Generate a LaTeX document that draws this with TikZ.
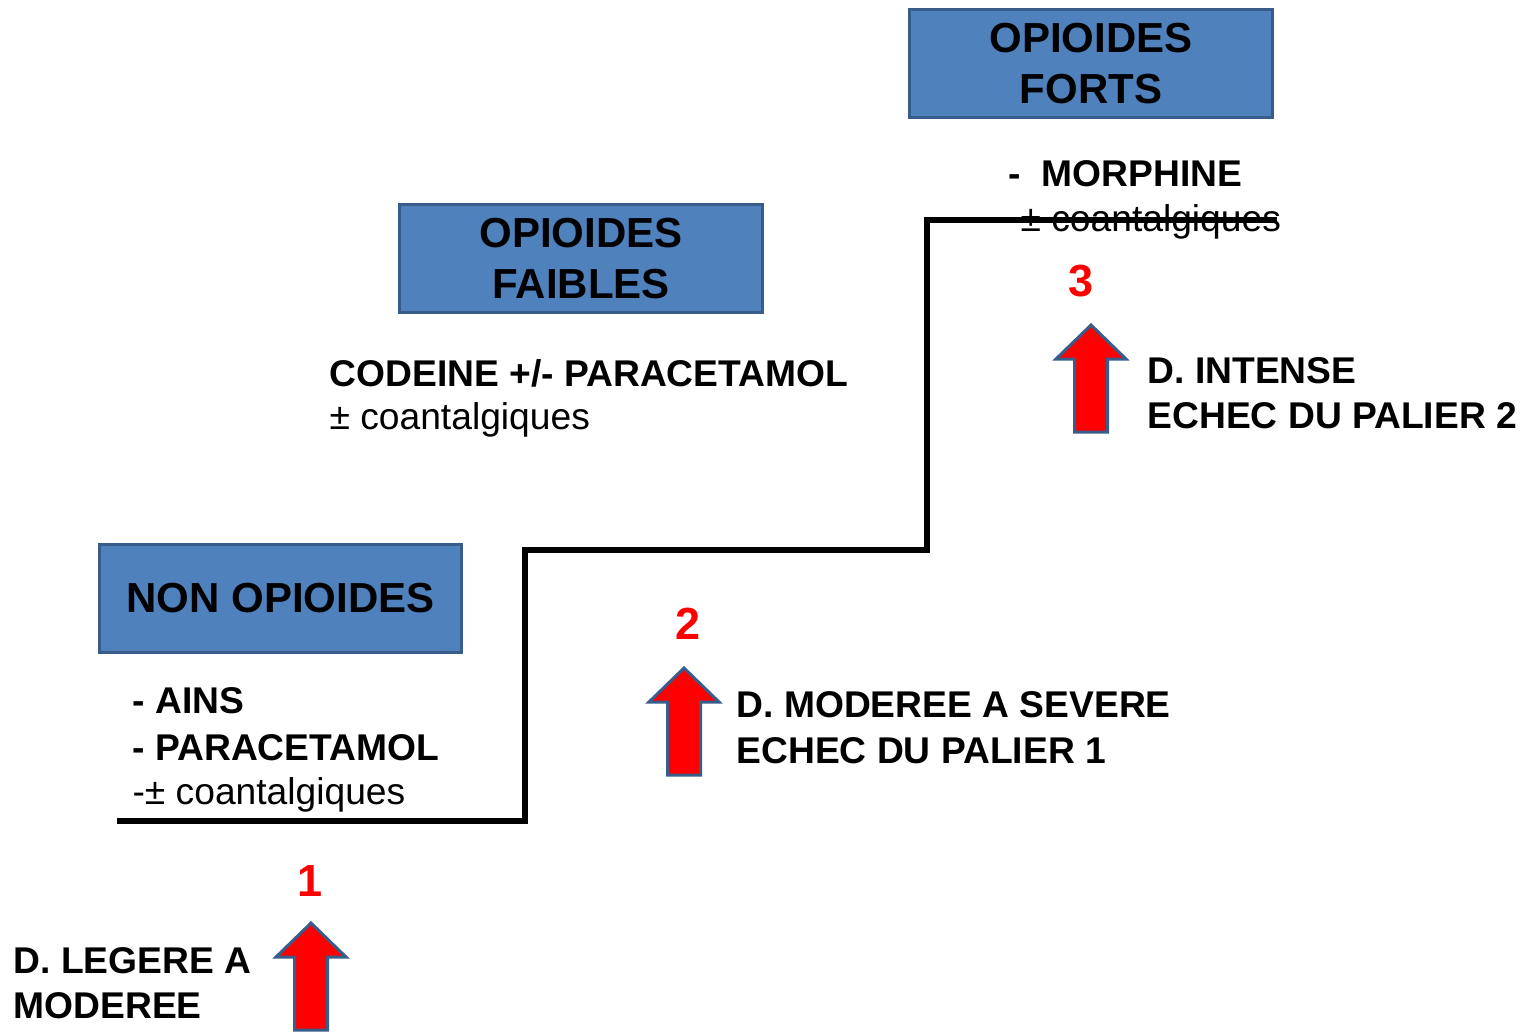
\documentclass[tikz,border=0pt]{standalone}
\usepackage{fontspec}
\setmainfont{Liberation Sans}
\definecolor{boxblue}{HTML}{4F81BD}
\definecolor{boxline}{HTML}{385D8A}
\tikzset{
  palier/.style={draw=boxline, fill=boxblue, line width=1pt, inner sep=0pt,
    minimum width=120.7pt, minimum height=35.7pt, align=center,
    font=\fontsize{14}{16.7}\selectfont\bfseries},
  txt/.style={anchor=base west, inner sep=0pt, font=\fontsize{12.4}{15}\selectfont\bfseries},
  coan/.style={anchor=base west, inner sep=0pt, font=\fontsize{12.4}{15}\selectfont},
  numero/.style={anchor=base, inner sep=0pt, text=red, font=\fontsize{15}{17}\selectfont\bfseries},
  uparrow/.pic={
    \draw[boxline, fill=red, line width=1pt, line join=miter]
      (0,0) -- (35,34) -- (16.5,34) -- (16.5,107) -- (-16.5,107)
      -- (-16.5,34) -- (-35,34) -- cycle;
  }
}
\begin{document}
\begin{tikzpicture}[x={(0.3333pt,0)}, y={(0,-0.3333pt)}]
  \useasboundingbox (0,0) rectangle (1522,1032);
  \clip (0,0) rectangle (1522,1032);
  % paliers
  \node[palier] (forts) at (1091,63.5) {OPIOIDES\\FORTS};
  \node[palier] (faibles) at (581,258.5) {OPIOIDES\\FAIBLES};
  \node[palier] (nonop) at (280.5,598.5) {NON OPIOIDES};
  % palier 3
  \node[txt] (morph) at (1008,186) {-~~MORPHINE};
  \node[coan] (coan3) at (1020,231) {± coantalgiques};
  \node[numero] (n3) at (1081,296) {3};
  \node[txt] (int1) at (1147,383) {D. INTENSE};
  \node[txt] (int2) at (1147,428) {ECHEC DU PALIER 2};
  % palier 2
  \node[txt] (code) at (329,386) {CODEINE +/- PARACETAMOL};
  \node[coan] (coan2) at (329,429) {± coantalgiques};
  \node[numero] (n2) at (688,639) {2};
  \node[txt] (mod1) at (736,717) {D. MODEREE A SEVERE};
  \node[txt] (mod2) at (736,763) {ECHEC DU PALIER 1};
  % palier 1
  \node[txt] (ains) at (132,713) {- AINS};
  \node[txt] (para) at (132,760) {- PARACETAMOL};
  \node[coan] (coan1) at (132,804) {-± coantalgiques};
  \node[numero] (n1) at (310,896) {1};
  \node[txt] (leg1) at (13,973) {D. LEGERE A};
  \node[txt] (leg2) at (13,1018) {MODEREE};
  % escalier
  \coordinate (s0) at (117,821);
  \coordinate (s1) at (525,821);
  \coordinate (s2) at (525,550);
  \coordinate (s3) at (927,550);
  \coordinate (s4) at (927,220);
  \coordinate (s5) at (1277,220);
  \draw[line width=2pt] (s0) -- (s1) -- (s2) -- (s3) -- (s4) -- (s5);
  % fleches
  \pic at (311,923) {uparrow};
  \pic at (684,668) {uparrow};
  \pic at (1091,325) {uparrow};
\end{tikzpicture}
\end{document}
